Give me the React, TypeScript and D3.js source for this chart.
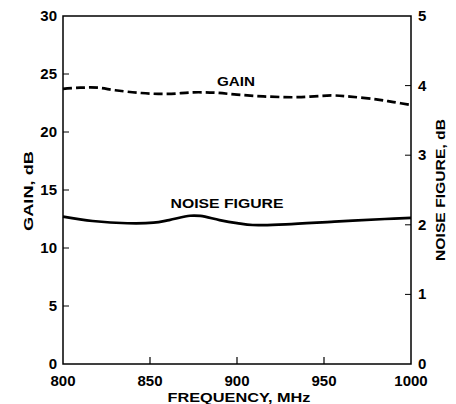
import React from "react";
import * as d3 from "d3";

const freqTicks = [800, 850, 900, 950, 1000];
const gainTicks = [0, 5, 10, 15, 20, 25, 30];
const nfTicks = [0, 1, 2, 3, 4, 5];

const gainFreq = [800, 810, 820, 830, 845, 860, 875, 888, 900, 915, 935, 955, 965, 980, 990, 1000];
const gainValues = [23.71, 23.82, 23.82, 23.6, 23.36, 23.28, 23.42, 23.38, 23.22, 23.07, 23.0, 23.15, 23.05, 22.82, 22.58, 22.33];

const nfFreq = [800, 817, 837, 852, 861, 873, 879, 890, 900, 909, 928, 956, 985, 1000];
const nfValues = [2.117, 2.055, 2.022, 2.03, 2.068, 2.13, 2.127, 2.068, 2.025, 1.997, 2.007, 2.045, 2.083, 2.1];

const W = 456;
const H = 404;
const L = 63, R = 411, T = 16, B = 364;
const FONT = "'Liberation Sans', Arial, Helvetica, sans-serif";

export default function App() {
  const x = d3.scaleLinear().domain([800, 1000]).range([L, R]);
  const yL = d3.scaleLinear().domain([0, 30]).range([B, T]);
  const yR = d3.scaleLinear().domain([0, 5]).range([B, T]);

  const gainLine = d3
    .line<number>()
    .x((_, i) => x(gainFreq[i]))
    .y((d) => yL(d))
    .curve(d3.curveCatmullRom.alpha(0.5))(gainValues) as string;

  const nfLine = d3
    .line<number>()
    .x((_, i) => x(nfFreq[i]))
    .y((d) => yR(d))
    .curve(d3.curveCatmullRom.alpha(0.5))(nfValues) as string;

  return (
    <svg
      width={W}
      height={H}
      style={{ position: "absolute", left: 0, top: 0, background: "#fff" }}
      fontFamily={FONT}
      fontWeight="bold"
    >
      <rect x={0} y={0} width={W} height={H} fill="#fff" />
      {freqTicks.slice(1, -1).map((f) => (
        <line key={"xt" + f} x1={x(f)} x2={x(f)} y1={B} y2={B - 7} stroke="#000" strokeWidth={1.2} />
      ))}
      {gainTicks.slice(1, -1).map((g) => (
        <line key={"yl" + g} x1={L} x2={L + 6} y1={yL(g)} y2={yL(g)} stroke="#000" strokeWidth={1} />
      ))}
      {nfTicks.slice(1, -1).map((g) => (
        <line key={"yr" + g} x1={R} x2={R - 6} y1={yR(g)} y2={yR(g)} stroke="#000" strokeWidth={1} />
      ))}
      <rect x={L} y={T} width={R - L} height={B - T} fill="none" stroke="#000" strokeWidth={1.5} />

      {freqTicks.map((f) => (
        <text key={"xl" + f} x={x(f)} y={386} textAnchor="middle" fontSize={15}>
          {f}
        </text>
      ))}
      {gainTicks.map((g) => (
        <text key={"gl" + g} x={57} y={yL(g) + 5} textAnchor="end" fontSize={15}>
          {g}
        </text>
      ))}
      {nfTicks.map((g) => (
        <text key={"nl" + g} x={418} y={yR(g) + 5} textAnchor="start" fontSize={15}>
          {g}
        </text>
      ))}

      <path d={gainLine} fill="none" stroke="#000" strokeWidth={2.7} strokeDasharray="9,4" />
      <path d={nfLine} fill="none" stroke="#000" strokeWidth={2.7} />

      <text x={236} y={86} textAnchor="middle" fontSize={13} textLength={38} lengthAdjust="spacingAndGlyphs">
        GAIN
      </text>
      <text x={227} y={208} textAnchor="middle" fontSize={13.5} textLength={113} lengthAdjust="spacingAndGlyphs">
        NOISE FIGURE
      </text>

      <text x={239} y={402} textAnchor="middle" fontSize={13} textLength={143} lengthAdjust="spacingAndGlyphs">
        FREQUENCY, MHz
      </text>
      <text
        transform={`translate(33,191) rotate(-90)`}
        textAnchor="middle"
        fontSize={13}
        textLength={80}
        lengthAdjust="spacingAndGlyphs"
      >
        GAIN, dB
      </text>
      <text
        transform={`translate(445,190) rotate(-90)`}
        textAnchor="middle"
        fontSize={13}
        textLength={142}
        lengthAdjust="spacingAndGlyphs"
      >
        NOISE FIGURE, dB
      </text>
    </svg>
  );
}
